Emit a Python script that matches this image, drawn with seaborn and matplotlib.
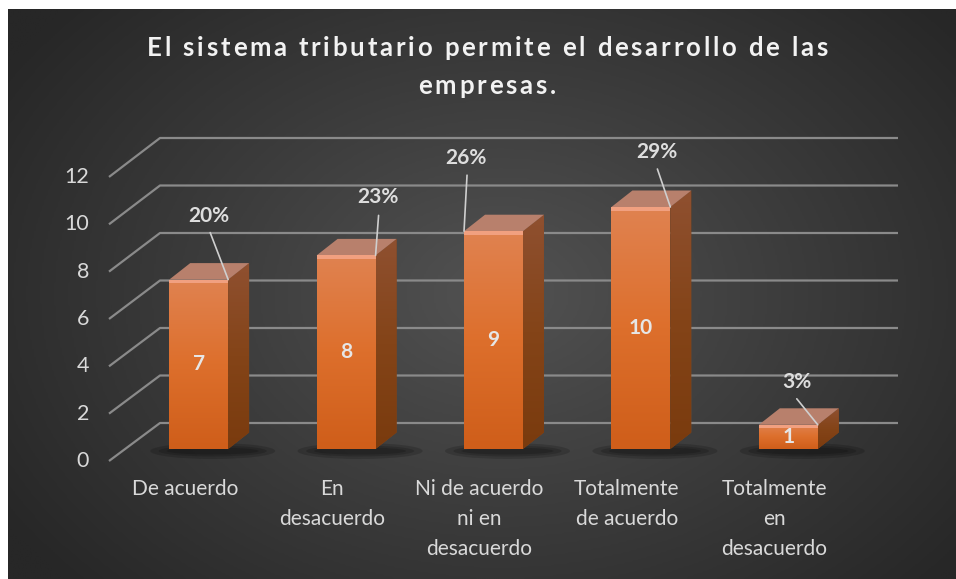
import numpy as np
import matplotlib
matplotlib.use("Agg")
import matplotlib.pyplot as plt
import seaborn as sns
from matplotlib.patches import Polygon, Ellipse, Rectangle
from matplotlib.colors import LinearSegmentedColormap
from matplotlib.font_manager import FontProperties

# ---------------- data ----------------
categories = ["De acuerdo", "En\ndesacuerdo", "Ni de acuerdo\nni en\ndesacuerdo",
              "Totalmente\nde acuerdo", "Totalmente\nen\ndesacuerdo"]
values = [7, 8, 9, 10, 1]
percent_labels = ["20%", "23%", "26%", "29%", "3%"]
y_ticks = [0, 2, 4, 6, 8, 10, 12]
title_lines = ["El sistema tributario permite el desarrollo de las", "empresas."]

# ---------------- layout / style ----------------
W, H, DPI = 956, 579, 100
L, R, B, T = 125, 862, 449, 449 - 12 * 24.2   # bar plane in image pixels
sns.set_theme(style="white")
plt.rcParams['font.family'] = ['Lato', 'DejaVu Sans']

fig = plt.figure(figsize=(W / DPI, H / DPI), dpi=DPI)
fig.patch.set_facecolor('white')

# background panel with radial gradient
bg = fig.add_axes([8 / W, 0, 1 - 8 / W, 1 - 9 / H], zorder=0)
nx, ny = 480, 290
xx, yy = np.meshgrid(np.linspace(0, 1, nx), np.linspace(0, 1, ny))
r = np.sqrt(((xx - 0.52) / 0.62) ** 2 + ((yy - 0.50) / 0.75) ** 2)
r = np.clip(r, 0, 1)
cmap_bg = LinearSegmentedColormap.from_list("bg", ["#525252", "#3c3c3c", "#272727"])
bg.imshow(r, cmap=cmap_bg, vmin=0, vmax=1, aspect='auto', extent=[0, 1, 0, 1], interpolation='bilinear')
bg.set_axis_off()

ax = fig.add_axes([L / W, (H - B) / H, (R - L) / W, (B - T) / H], zorder=2)
ax.patch.set_alpha(0)

sx = (R - L) / 5.0       # pixels per x unit
sy = (B - T) / 12.0      # pixels per y unit
def dx(px):
    return px / sx
def dy(px):              # image pixels (down positive) -> data units
    return -px / sy

front_color = "#DC6E2C"
sns.barplot(x=list(range(len(values))), y=values, color=front_color, width=0.4,
            ax=ax, saturation=1, zorder=4, linewidth=0, edgecolor='none')
ax.set_xlim(-0.5, 4.5)
ax.set_ylim(0, 12)
ax.set_axis_off()

grid_c = "#8a8a8a"
wall_f = 23.75 / sy
# walls / gridlines
for v in y_ticks:
    fy = dy(12) + v * 23.67 / sy
    fx = -0.5 + dx(-16)
    by = dy(-26) + v * wall_f
    bx0 = -0.5 + dx(35)
    bx1 = -0.5 + dx(898 - L)
    ax.plot([fx, bx0, bx1], [fy, by, by], color=grid_c, lw=1.6, clip_on=False,
            zorder=1, solid_capstyle='butt')
    ax.text(-0.5 + dx(89 - L), fy, str(v), ha='right', va='center', fontsize=15.5,
            color='#d9d9d9', clip_on=False)

# 3D faces
ddx, ddy = dx(21), dy(-16.5)
grad_front = LinearSegmentedColormap.from_list("gf", ["#E08250", "#DD6F2C", "#CF5E1A"])
grad_side = LinearSegmentedColormap.from_list("gs", ["#8F5030", "#844418", "#7A3B0E"])
gcol = np.linspace(0, 1, 100).reshape(-1, 1)

pct_anchor = ['r', 'r', 'l', 'r', 'r']
pct_text_off = [(-19, -64), (2, -58), (2, -73), (-14, -55), (-21, -43)]
pct_line_off = [(-18, -47), (3, -40), (3, -56), (-13, -38), (-21, -26)]

bars = list(ax.patches)
for i, p in enumerate(bars):
    x0, w, h = p.get_x(), p.get_width(), p.get_height()
    # shadow
    for ew, eh in [(125, 16), (108, 11), (92, 7)]:
        e = Ellipse((x0 + w / 2 + dx(14), dy(2)), dx(ew), -dy(eh), facecolor='black',
                    alpha=0.16, edgecolor='none', zorder=2, clip_on=False)
        ax.add_patch(e)
    # front gradient
    im = ax.imshow(gcol, cmap=grad_front, aspect='auto', extent=[x0, x0 + w, 0, h],
                   origin='upper', zorder=4.1, interpolation='bilinear')
    im.set_clip_path(p)
    ax.add_patch(Rectangle((x0, h + dy(3.5)), w, -dy(3.5), facecolor="#F1A080",
                           edgecolor='none', zorder=4.2))
    # side face
    side = Polygon([(x0 + w, 0), (x0 + w + ddx, ddy), (x0 + w + ddx, h + ddy), (x0 + w, h)],
                   closed=True, facecolor="#85471C", edgecolor='none', zorder=3)
    ax.add_patch(side)
    ims = ax.imshow(gcol, cmap=grad_side, aspect='auto',
                    extent=[x0 + w, x0 + w + ddx, 0, h + ddy], origin='upper',
                    zorder=3.1, interpolation='bilinear')
    ims.set_clip_path(side)
    # top face
    top = Polygon([(x0, h), (x0 + w, h), (x0 + w + ddx, h + ddy), (x0 + ddx, h + ddy)],
                  closed=True, facecolor="#B8806C", edgecolor='none', zorder=3.5)
    ax.add_patch(top)
    # value label
    ax.text(x0 + w / 2, h / 2, str(values[i]), ha='center', va='center', fontsize=15,
            fontweight='bold', color='#e6e6e6', zorder=6)
    # percentage label with leader line
    axp = x0 + w if pct_anchor[i] == 'r' else x0
    tox, toy = pct_text_off[i]
    lox, loy = pct_line_off[i]
    ax.plot([axp + dx(lox), axp], [h + dy(loy), h], color='#cfcfcf', lw=1.2,
            zorder=6, clip_on=False)
    ax.text(axp + dx(tox), h + dy(toy), percent_labels[i], ha='center', va='center',
            fontsize=15, fontweight='bold', color='#dedede', zorder=6, clip_on=False)
    # category label on front plane
    ax.text(i + dx(-14), dy(30), categories[i], ha='center', va='top', fontsize=15,
            color='#d9d9d9', linespacing=1.62, clip_on=False, zorder=6)

ax.set_xlim(-0.5, 4.5)
ax.set_ylim(0, 12)

# letter-spaced title
renderer = fig.canvas.get_renderer()
fp = FontProperties(family=['Lato', 'DejaVu Sans'], weight='bold', size=18.5)
def tw(s):
    return renderer.get_text_width_height_descent(s, fp, ismath=False)[0]
spacing = 2.8
base_w = tw("||")
for line, ybase in zip(title_lines, [56, 94]):
    adv = [tw("|" + ch + "|") - base_w for ch in line]
    total = sum(adv) + spacing * (len(line) - 1)
    x = 487 - total / 2
    for ch, a in zip(line, adv):
        if ch != ' ':
            fig.text((x + a / 2) / W, 1 - ybase / H, ch, ha='center', va='baseline',
                     fontproperties=fp, color='#f2f2f2', zorder=10)
        x += a + spacing

fig.savefig("out.png", dpi=DPI)
